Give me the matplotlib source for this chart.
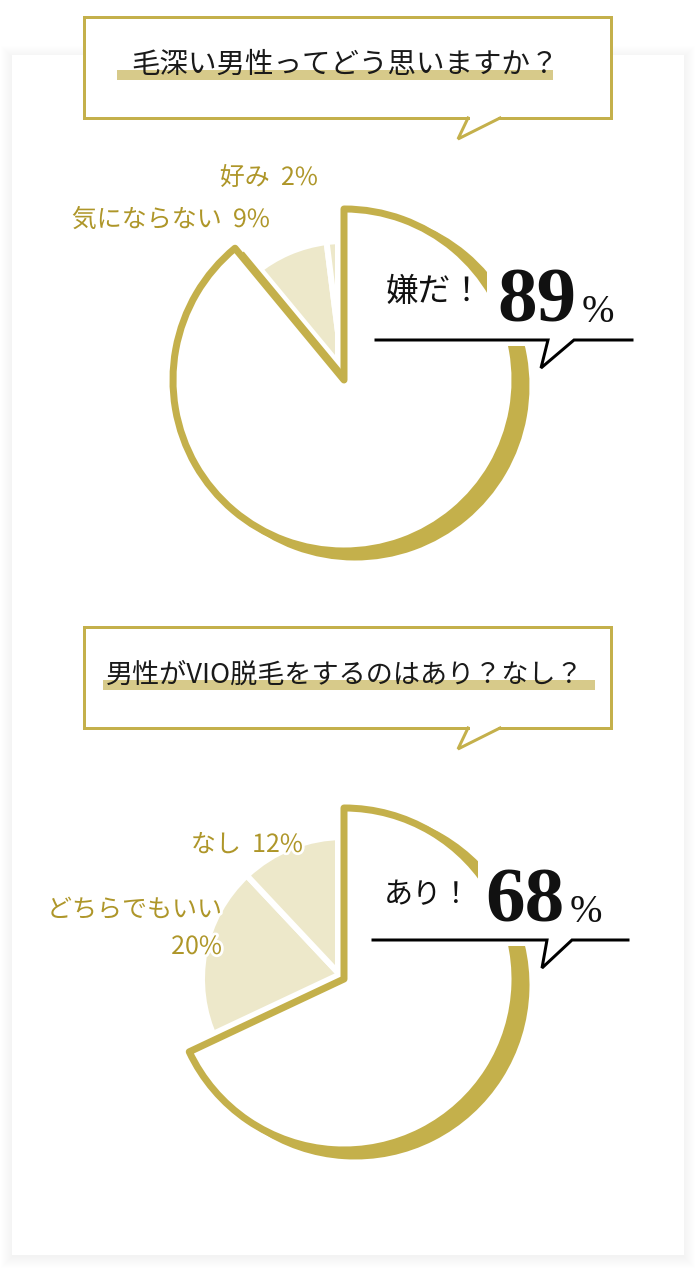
import numpy as np
import matplotlib.pyplot as plt
from matplotlib.patches import Wedge, Rectangle
import matplotlib.patheffects as pe

plt.rcParams['font.family'] = ['Noto Sans CJK JP', 'DejaVu Sans']

# データ
q1_title = '毛深い男性ってどう思いますか？'
q1_labels = ['嫌だ！', '気にならない', '好み']
q1_values = [89, 9, 2]

q2_title = '男性がVIO脱毛をするのはあり？なし？'
q2_labels = ['あり！', 'どちらでもいい', 'なし']
q2_values = [68, 20, 12]

GOLD = '#c4b04b'
BEIGE = '#ede8ca'
TEXT_GOLD = '#ae9629'
HILITE = '#d7ca8a'

W, H = 696, 1268
px = 0.72  # 1px -> pt (dpi 100)

fig = plt.figure(figsize=(W / 100, H / 100), dpi=100)
ax = fig.add_axes([0, 0, 1, 1])
ax.set_xlim(0, W)
ax.set_ylim(H, 0)
ax.axis('off')

# カードの影と本体
for i in range(12):
    ax.add_patch(Rectangle((12 - i, 55 - i + 2), 672 + 2 * i, 1200 + 2 * i,
                           facecolor='black', alpha=0.005, lw=0))
ax.add_patch(Rectangle((12, 55), 672, 1200, facecolor='white', lw=0))


def title_box(y0, text, hl_x0, hl_x1, size):
    y1 = y0 + 101
    ax.add_patch(Rectangle((84, y0), 527, 101, facecolor='white',
                           edgecolor=GOLD, lw=3 * px))
    ax.add_patch(Rectangle((470, y1 - 2), 28, 4, facecolor='white', lw=0))
    ax.plot([468, 458, 500], [y1, y1 + 21, y1], color=GOLD, lw=3 * px,
            solid_joinstyle='miter')
    ax.add_patch(Rectangle((hl_x0, y0 + 53), hl_x1 - hl_x0, 10,
                           facecolor=HILITE, lw=0))
    ax.text(345, y0 + 48, text, fontsize=size, ha='center', va='center',
            color='#1a1a1a')


def pie(cx, cy, r, r_sub, values):
    total = sum(values)
    edges = -90 + 360 * np.concatenate([[0], np.cumsum(values)]) / total
    # 薄い色の扇形
    for t1, t2 in zip(edges[1:-1], edges[2:]):
        ax.add_patch(Wedge((cx, cy), r_sub, t1, t2, facecolor=BEIGE,
                           edgecolor='white', lw=6 * px))
    t1, t2 = edges[0], edges[1]
    ax.add_patch(Wedge((cx, cy), r, t1, t2, facecolor='white',
                       edgecolor='white', lw=18 * px))
    ax.add_patch(Wedge((cx + 11, cy + 6), r + 3.5, t1, t2, facecolor=GOLD,
                       lw=0))
    ax.add_patch(Wedge((cx, cy), r, t1, t2, facecolor='white',
                       edgecolor=GOLD, lw=7 * px, joinstyle='round'))


def label(x, y, s):
    ax.text(x, y, s, fontsize=18, ha='right', va='center', color=TEXT_GOLD,
            path_effects=[pe.withStroke(linewidth=4, foreground='white')])


def callout(word, value, x_word, y_word, x_num, base, line_y, x0, x1, tail,
            cover, word_size):
    ax.add_patch(Rectangle((cover[0], cover[1]), cover[2] - cover[0],
                           cover[3] - cover[1], facecolor='white', lw=0))
    ax.text(x_word, y_word, word, fontsize=word_size, ha='left', va='center',
            color='#111111')
    ax.text(x_num, base, str(value), fontsize=57, ha='left', va='baseline',
            family='Liberation Serif', weight='bold', color='#111111')
    ax.text(x_num + 85, base, '%', fontsize=28, ha='left', va='baseline',
            family='Liberation Serif', color='#111111')
    ax.plot([x0, tail[0], tail[1], tail[2], x1],
            [line_y, line_y, line_y + 28, line_y, line_y],
            color='black', lw=3 * px, solid_joinstyle='miter')


# 1つ目
title_box(17, q1_title, 117, 553, 20.5)
pie(344, 380, 171, 139, q1_values)
label(318, 178, f'{q1_labels[2]}  {q1_values[2]}%')
label(270, 220, f'{q1_labels[1]}  {q1_values[1]}%')
callout(q1_labels[0], q1_values[0], 386, 292, 497, 322, 340, 376, 632,
        (548, 541, 574), (487, 255, 632, 346), 23.5)

# 2つ目
title_box(627, q2_title, 103, 595, 19.5)
pie(344, 979, 171, 142, q2_values)
label(303, 845, f'{q2_labels[2]}  {q2_values[2]}%')
label(222, 910, q2_labels[1])
label(222, 947, f'{q2_values[1]}%')
callout(q2_labels[0], q2_values[0], 384, 895, 485, 922, 940, 373, 628,
        (547, 542, 572), (478, 850, 630, 946), 21)

fig.savefig('out.png', dpi=100)
